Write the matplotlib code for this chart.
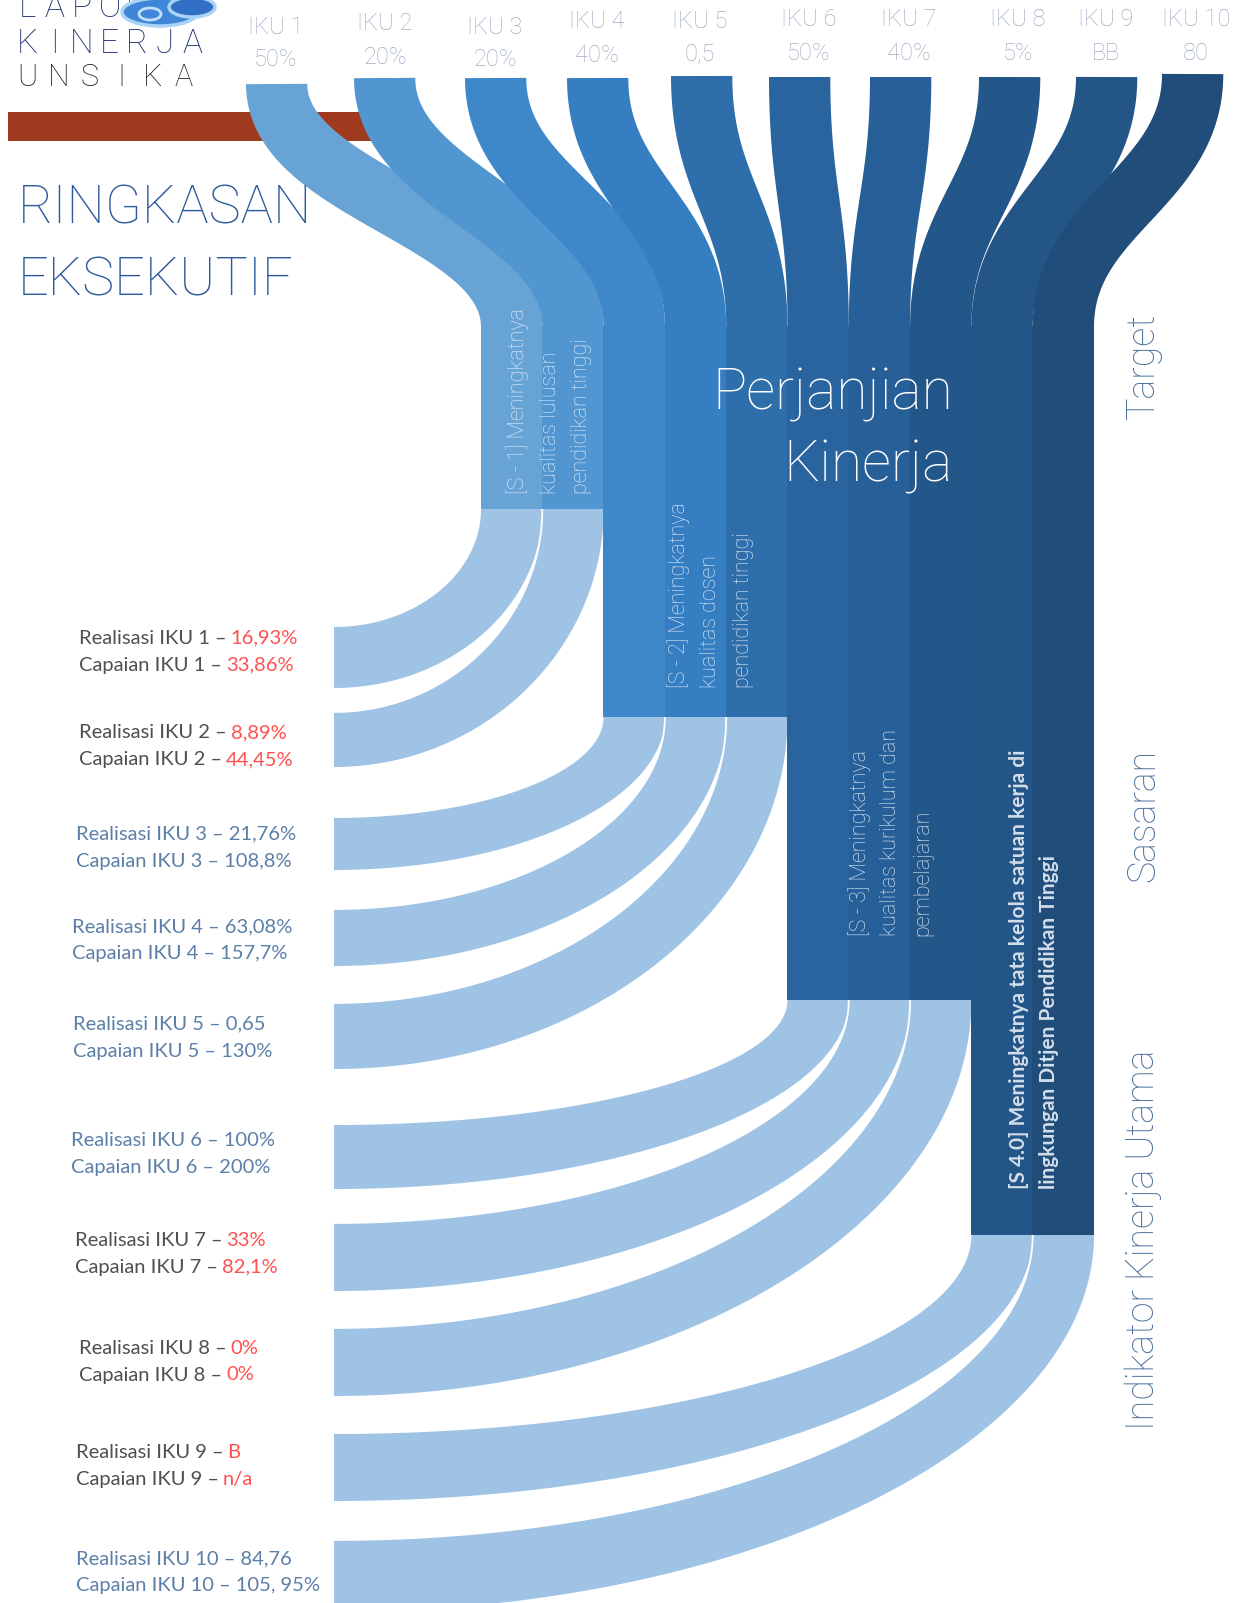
import numpy as np
import matplotlib
matplotlib.use("Agg")
import matplotlib.pyplot as plt
from matplotlib.patches import Polygon, Rectangle, Ellipse

# ---------------- data ----------------
iku_names = ["IKU 1", "IKU 2", "IKU 3", "IKU 4", "IKU 5",
             "IKU 6", "IKU 7", "IKU 8", "IKU 9", "IKU 10"]
iku_targets = ["50%", "20%", "20%", "40%", "0,5", "50%", "40%", "5%", "BB", "80"]
iku_realisasi = ["16,93%", "8,89%", "21,76%", "63,08%", "0,65",
                 "100%", "33%", "0%", "B", "84,76"]
iku_capaian = ["33,86%", "44,45%", "108,8%", "157,7%", "130%",
               "200%", "82,1%", "0%", "n/a", "105, 95%"]
iku_tercapai = [False, False, True, True, True, True, False, False, False, True]
iku_sasaran = [0, 0, 1, 1, 1, 2, 2, 2, 3, 3]
flow_weight = [1, 1, 1, 1, 1, 1, 1, 1, 1, 1]
sasaran_lines = [
    ["[S - 1] Meningkatnya", "kualitas lulusan", "pendidikan tinggi"],
    ["[S - 2] Meningkatnya", "kualitas dosen", "pendidikan tinggi"],
    ["[S - 3] Meningkatnya", "kualitas kurikulum dan", "pembelajaran"],
    ["[S 4.0] Meningkatnya tata kelola satuan kerja di",
     "lingkungan Ditjen Pendidikan Tinggi"],
]
layer_labels = ["Target", "Sasaran", "Indikator Kinerja Utama"]

# ---------------- layout / style ----------------
W, H = 1246, 1603
band_colors = ["#68a3d6", "#5196d0", "#3e88ca", "#357ec1", "#2e6eab",
               "#29649f", "#275f98", "#245789", "#235587", "#204d79"]
flow_color = "#9fc3e5"
UNIT = 61.3
COL_X0 = 481
COL_TOP = 327
block_bottom = [509, 717, 1000, 1235]
top_left_x = [246, 354, 465, 567, 671, 769, 870, 979, 1076, 1162]
top_y = [84, 78, 78, 78, 76, 77, 77, 77, 77, 74]
end_x = 334
end_top = [627, 712, 818, 909, 1003, 1125, 1223, 1328, 1434, 1540]
end_bot = [688, 767, 870, 966, 1069, 1189, 1291, 1396, 1501, 1612]
lab_xy = [(276, 27, 60), (385, 23, 57), (495, 27, 59), (597, 22, 55), (700, 21, 54),
          (809, 20, 54), (909, 20, 54), (1018, 20, 53), (1106, 20, 53), (1196, 20, 54)]
left_lab = [(79, 638), (79, 733), (76, 834), (72, 927), (73, 1024),
            (71, 1140), (75, 1240), (79, 1348), (76, 1452), (76, 1559)]
sas_text_x = [[518, 550, 582], [679, 711, 743], [860, 891, 923], [1019, 1049]]
sas_text_y = [494, 688, 936, 1189]
layer_y = [366, 815, 1240]

LIGHT = dict(family=["Roboto", "DejaVu Sans"], weight="light")
REG = dict(family=["Lato", "DejaVu Sans"], weight="normal")

fig = plt.figure(figsize=(W / 100, H / 100), dpi=100)
ax = fig.add_axes([0, 0, 1, 1])
ax.set_xlim(0, W)
ax.set_ylim(H, 0)
ax.axis("off")


def bezier(P, n=160):
    P = np.asarray(P, float)
    t = np.linspace(0, 1, n)[:, None]
    return ((1 - t) ** 3) * P[0] + 3 * ((1 - t) ** 2) * t * P[1] + \
        3 * (1 - t) * t ** 2 * P[2] + t ** 3 * P[3]


def thick_curve(P, w):
    c = bezier(P, 300)
    d = np.gradient(c, axis=0)
    d /= np.linalg.norm(d, axis=1)[:, None]
    nrm = np.stack([-d[:, 1], d[:, 0]], axis=1)
    return np.vstack([c + nrm * w / 2, (c - nrm * w / 2)[::-1]])


# red bar
ax.add_patch(Rectangle((8, 112), 380, 29, facecolor="#a03a1f", edgecolor="none", zorder=1))

# top bands + columns
edges = COL_X0 + UNIT * np.concatenate([[0], np.cumsum(flow_weight)])
for i in range(len(iku_names)):
    w = UNIT * flow_weight[i]
    xc = edges[i] + w / 2
    xt = top_left_x[i] + w / 2
    D = COL_TOP - top_y[i]
    P = [(xt, top_y[i]), (xt, top_y[i] + 0.45 * D), (xc, COL_TOP - 0.45 * D), (xc, COL_TOP)]
    ax.add_patch(Polygon(thick_curve(P, w), closed=True, facecolor=band_colors[i],
                         edgecolor="none", zorder=3))
    g = iku_sasaran[i]
    ax.add_patch(Rectangle((edges[i] - 0.3, COL_TOP - 1), w + 0.6, block_bottom[g] - COL_TOP + 1,
                           facecolor=band_colors[i], edgecolor="none", zorder=3))

# bottom flows
k = 0.55
for i in range(len(iku_names)):
    g = iku_sasaran[i]
    yb = block_bottom[g]
    xl, xr = edges[i], edges[i + 1]
    inner = bezier([(xl, yb), (xl, yb + k * (end_top[i] - yb)),
                    (end_x + k * (xl - end_x), end_top[i]), (end_x, end_top[i])])
    outer = bezier([(xr, yb), (xr, yb + k * (end_bot[i] - yb)),
                    (end_x + k * (xr - end_x), end_bot[i]), (end_x, end_bot[i])])
    ax.add_patch(Polygon(np.vstack([inner, outer[::-1]]), closed=True,
                         facecolor=flow_color, edgecolor="none", zorder=2))
    if i > 0 and iku_sasaran[i - 1] == g:
        ax.plot(inner[:, 0], inner[:, 1], color="white", lw=1.3, zorder=2.5)

# logo area
ax.add_patch(Ellipse((160, 12), 76, 28, facecolor="#3f86d8", edgecolor="#a9d3f5", lw=2.5, zorder=4))
ax.add_patch(Ellipse((192, 7), 46, 20, facecolor="#2f6fc4", edgecolor="#a9d3f5", lw=2.5, zorder=4))
ax.add_patch(Ellipse((150, 14), 22, 12, facecolor="none", edgecolor="#bfe0fa", lw=2, zorder=4.5))
for j, ch in enumerate("LAPORAN"):
    ax.text(27 + j * 27.5, 17, ch, ha="center", va="baseline", color="#1a2e6c",
            fontsize=24, zorder=3.5, **LIGHT)
for j, ch in enumerate("KINERJA"):
    ax.text(27 + j * 27.5, 53, ch, ha="center", va="baseline", color="#1a2e6c",
            fontsize=24, zorder=5, **LIGHT)
for j, ch in enumerate("UNSIKA"):
    ax.text(27 + j * 31.4, 86, ch, ha="center", va="baseline", color="#1e1e1e",
            fontsize=22, zorder=5, **LIGHT)

ax.text(18, 223, "RINGKASAN", ha="left", va="baseline", color="#2e5a9c",
        fontsize=39, zorder=6, **LIGHT)
ax.text(18, 295, "EKSEKUTIF", ha="left", va="baseline", color="#2e5a9c",
        fontsize=39, zorder=6, **LIGHT)

# top labels
for i in range(len(iku_names)):
    x, y1, y2 = lab_xy[i]
    ax.text(x, y1, iku_names[i], ha="center", va="center", color="#a0adc2",
            fontsize=17, zorder=6, **LIGHT)
    ax.text(x, y2, iku_targets[i], ha="center", va="center", color="#a0adc2",
            fontsize=17, zorder=6, **LIGHT)

# sasaran texts
for g, lines in enumerate(sasaran_lines):
    for j, line in enumerate(lines):
        if g == 3:
            ax.text(sas_text_x[g][j], sas_text_y[g], line, rotation=90, ha="center",
                    va="bottom", color="#d3deeb", fontsize=15, zorder=6,
                    family=["Lato", "DejaVu Sans"], weight="bold")
        else:
            ax.text(sas_text_x[g][j], sas_text_y[g], line, rotation=90, ha="center",
                    va="bottom", color="#e2eefa", fontsize=15.5, zorder=6, **LIGHT)

ax.text(953, 409, "Perjanjian", ha="right", va="baseline", color="white",
        fontsize=41, zorder=6, **LIGHT)
ax.text(953, 482, "Kinerja", ha="right", va="baseline", color="white",
        fontsize=41, zorder=6, **LIGHT)

for lab, y in zip(layer_labels, layer_y):
    ax.text(1143, y, lab, rotation=90, ha="center", va="center", color="#4a709c",
            fontsize=27, zorder=6, **LIGHT)

# left labels
r = fig.canvas.get_renderer()
inv = ax.transData.inverted()
grey, red, blue = "#4f4f4f", "#ff4f4f", "#5b7fa8"
for i in range(len(iku_names)):
    x, y = left_lab[i]
    num = iku_names[i].split()[1]
    for dy, head, val in [(0, "Realisasi IKU " + num + " –", iku_realisasi[i]),
                          (27, "Capaian IKU " + num + " –", iku_capaian[i])]:
        if iku_tercapai[i]:
            ax.text(x, y + dy, head + " " + val, ha="left", va="center", color=blue,
                    fontsize=14.5, zorder=6, **REG)
        else:
            t = ax.text(x, y + dy, head, ha="left", va="center", color=grey,
                        fontsize=14.5, zorder=6, **REG)
            bb = t.get_window_extent(renderer=r)
            xe = inv.transform((bb.x1, bb.y0))[0]
            ax.text(xe + 4, y + dy, val, ha="left", va="center", color=red,
                    fontsize=14.5, zorder=6, **REG)

fig.savefig("out.png", dpi=100)
